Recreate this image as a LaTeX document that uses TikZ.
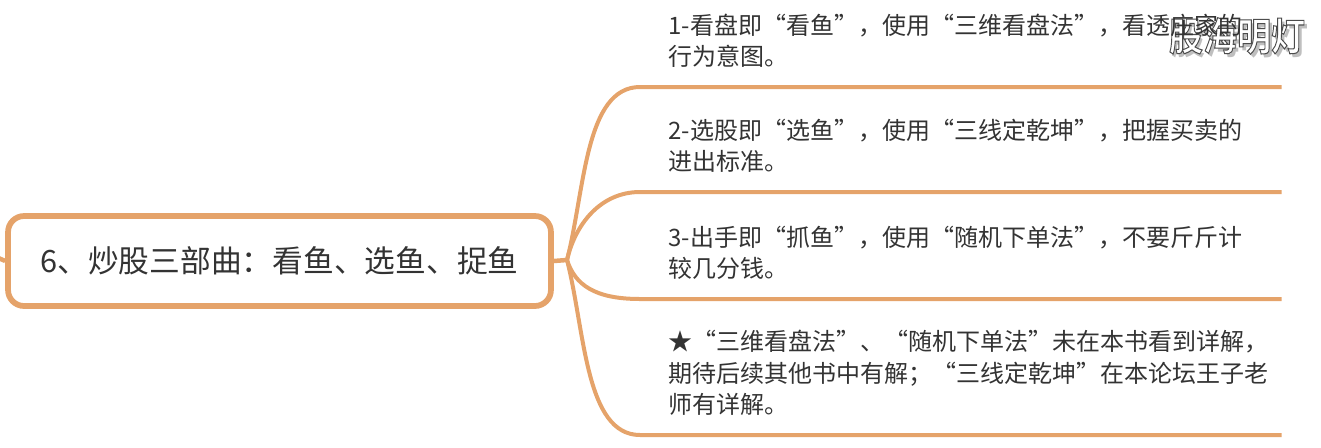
\documentclass[tikz,border=0pt]{standalone}
\usepackage{xcolor}
\usepackage{fontspec}
\setmainfont{Noto Sans CJK SC}
\newfontfamily\markfont{Noto Sans CJK SC Bold}
\usetikzlibrary{positioning}
\definecolor{branchcolor}{RGB}{229,163,106}
\definecolor{textcolor}{RGB}{51,51,51}
\newcommand{\outlined}[1]{\special{pdf:code 2 Tr 0.6 w 0.3 G}#1\special{pdf:code 0 Tr 0 G}}

\begin{document}
\begin{tikzpicture}[
    x=0.02cm, y=-0.02cm,
    root/.style={draw=branchcolor, line width=0.115cm, fill=white, rounded corners=0.32cm, minimum width=10.86cm, minimum height=1.8cm, text=textcolor, font=\fontsize{17.5pt}{21pt}\selectfont, inner sep=0pt},
    leaf/.style={anchor=south west, text width=12.26cm, align=left, inner xsep=0pt, inner ysep=0.38cm, text=textcolor, font=\fontsize{13.66pt}{17.9pt}\selectfont},
    branch/.style={draw=branchcolor, line width=0.08cm},
    stem/.style={draw=branchcolor, line width=0.09cm},
    wmark/.style={font=\markfont\fontsize{22pt}{26pt}\selectfont, inner sep=0pt, xscale=0.88, transform shape}
]
    \useasboundingbox (0,0) rectangle (1321,447);

    % watermark goes under the text
    \node[wmark, text=black!50, opacity=0.5] (shade) at (1240,40) {股海明灯};
    \node[wmark, text=white] (mark) at (1237,36) {\outlined{股海明灯}};

    \coordinate (in) at (-6,256);
    \coordinate (hub) at (567,260);
    \node[root] (main) at (279.5,261) {\raisebox{-0.05cm}{6、炒股三部曲：看鱼、选鱼、捉鱼}};

    \node[leaf] (leaf1) at (668,87) {1-看盘即“看鱼”，使用“三维看盘法”，看透庄家的\\行为意图。};
    \node[leaf] (leaf2) at (668,192) {2-选股即“选鱼”，使用“三线定乾坤”，把握买卖的\\进出标准。};
    \node[leaf] (leaf3) at (668,299) {3-出手即“抓鱼”，使用“随机下单法”，不要斤斤计\\较几分钱。};
    \node[leaf] (leaf4) at (668,435) {★“三维看盘法”、“随机下单法”未在本书看到详解，\\期待后续其他书中有解；“三线定乾坤”在本论坛王子老\\师有详解。};

    \coordinate[left=0.56cm of leaf1.south west] (knee1);
    \coordinate[left=0.56cm of leaf2.south west] (knee2);
    \coordinate[left=0.56cm of leaf3.south west] (knee3);
    \coordinate[left=0.56cm of leaf4.south west] (knee4);

    \draw[stem] (in) -- (main.west);
    \draw[stem] (main.east) -- (hub);
    \draw[branch] (hub) .. controls (585,190) and (585,87) .. (knee1) -- (leaf1.south east);
    \draw[branch] (hub) .. controls (575,225) and (600,192) .. (knee2) -- (leaf2.south east);
    \draw[branch] (hub) .. controls (575,285) and (595,299) .. (knee3) -- (leaf3.south east);
    \draw[branch] (hub) .. controls (585,330) and (585,435) .. (knee4) -- (leaf4.south east);
\end{tikzpicture}
\end{document}
